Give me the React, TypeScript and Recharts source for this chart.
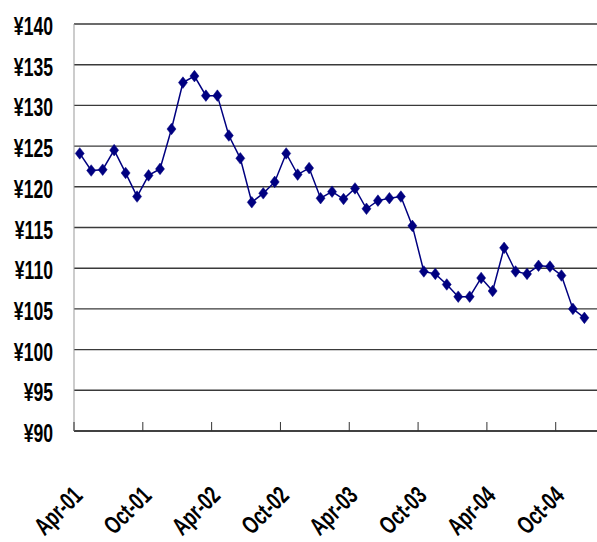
import React from 'react';
import { LineChart, Line, XAxis, YAxis, CartesianGrid } from 'recharts';

// Month index 0 = Apr-01, monthly through Dec-04
const monthIndex: number[] = Array.from({ length: 45 }, (_, i) => i);
const prices: number[] = [
  124.1, 122.0, 122.1, 124.5, 121.7, 118.8, 121.4, 122.2, 127.1, 132.8,
  133.6, 131.2, 131.2, 126.3, 123.5, 118.1, 119.2, 120.6, 124.1, 121.5,
  122.3, 118.6, 119.4, 118.5, 119.8, 117.3, 118.3, 118.6, 118.8, 115.2,
  109.6, 109.3, 108.0, 106.5, 106.5, 108.8, 107.2, 112.5, 109.6, 109.3,
  110.3, 110.2, 109.1, 105.0, 103.9,
];
const tickLabels: string[] = ['Apr-01', 'Oct-01', 'Apr-02', 'Oct-02', 'Apr-03', 'Oct-03', 'Apr-04', 'Oct-04'];
const tickValues: number[] = [-0.5, 5.5, 11.5, 17.5, 23.5, 29.5, 35.5, 41.5];
const yTicks: number[] = [90, 95, 100, 105, 110, 115, 120, 125, 130, 135, 140];

const data = monthIndex.map((m, i) => ({ m, price: prices[i] }));

const FONT = "'Liberation Sans', Arial, sans-serif";
const NAVY = '#000080';
const SX = 0.8;
const SY = 1.14;

const YTick = (props: any) => {
  const { x, y, payload } = props;
  return (
    <text
      transform={`translate(${x},${y + 2}) scale(${SX},${SY})`}
      x={0}
      y={0}
      dy="0.36em"
      textAnchor="end"
      fontFamily={FONT}
      fontWeight="bold"
      fontSize={22}
      fill="#000"
    >
      {`¥${payload.value}`}
    </text>
  );
};

const XTick = (props: any) => {
  const { x, y, index } = props;
  const label = tickLabels[index] ?? '';
  return (
    <g>
      <line x1={x} x2={x} y1={y} y2={y - 9} stroke="#333" strokeWidth={1} />
      <text
        transform={`translate(${x + 10},${y + 66}) rotate(-45) scale(${SX},${SY})`}
        x={0}
        y={0}
        textAnchor="end"
        fontFamily={FONT}
        fontWeight="bold"
        fontSize={22}
        fill="#000"
      >
        {label}
      </text>
    </g>
  );
};

const Diamond = (props: any) => {
  const { cx, cy } = props;
  if (cx == null || cy == null) return null;
  const w = 4.5;
  const h = 5.8;
  return <path d={`M${cx},${cy - h} L${cx + w},${cy} L${cx},${cy + h} L${cx - w},${cy} Z`} fill={NAVY} stroke={NAVY} strokeWidth={0.5} />;
};

export default function App() {
  return (
    <div style={{ position: 'absolute', left: 0, top: 0, width: 597, height: 542, background: '#fff' }}>
      <LineChart width={597} height={542} data={data} margin={{ top: 24, right: 0, bottom: 0, left: 0 }}>
        <CartesianGrid horizontal={true} vertical={false} stroke="#3a3a3a" strokeWidth={1.4} />
        <XAxis
          dataKey="m"
          type="number"
          domain={[-0.5, 45.1]}
          ticks={tickValues}
          allowDataOverflow
          height={111}
          tickSize={0}
          tickMargin={0}
          tickLine={false}
          axisLine={{ stroke: '#333', strokeWidth: 1.4 }}
          tick={<XTick />}
          interval={0}
        />
        <YAxis
          type="number"
          domain={[90, 140]}
          ticks={yTicks}
          width={74}
          tickSize={0}
          tickMargin={21}
          tickLine={false}
          axisLine={{ stroke: '#999', strokeWidth: 1 }}
          tick={<YTick />}
          interval={0}
        />
        <Line
          type="linear"
          dataKey="price"
          stroke={NAVY}
          strokeWidth={1.5}
          dot={<Diamond />}
          activeDot={false}
          isAnimationActive={false}
        />
      </LineChart>
    </div>
  );
}
